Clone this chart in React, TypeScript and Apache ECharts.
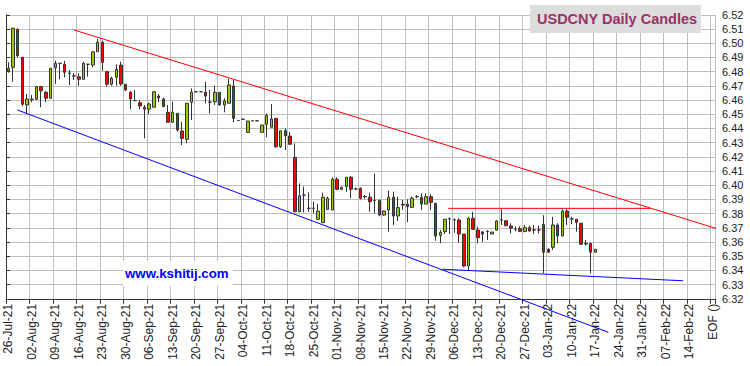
import React, { useEffect, useRef } from "react";
import * as echarts from "echarts";

const MONTHS = ["Jan", "Feb", "Mar", "Apr", "May", "Jun", "Jul", "Aug", "Sep", "Oct", "Nov", "Dec"];

// trading days (weekdays) from 26-Jul-21, 30 weeks, then the EOF slot
function buildCategories(): string[] {
  const out: string[] = [];
  let t = Date.UTC(2021, 6, 26);
  while (out.length < 150) {
    const d = new Date(t);
    const wd = d.getUTCDay();
    if (wd !== 0 && wd !== 6) {
      const dd = String(d.getUTCDate()).padStart(2, "0");
      const yy = String(d.getUTCFullYear() % 100).padStart(2, "0");
      out.push(`${dd}-${MONTHS[d.getUTCMonth()]}-${yy}`);
    }
    t += 86400000;
  }
  out.push("EOF ()");
  return out;
}
const categories = buildCategories();

const openV = [
  6.4806, 6.4830, 6.5098, 6.4901, 6.4565, 6.4603, 6.4605, 6.4694, 6.4654, 6.4612,
  6.4827, 6.4858, 6.4851, 6.4790, 6.4770, 6.4764, 6.4746, 6.4852, 6.4846, 6.4940,
  6.5006, 6.4799, 6.4711, 6.4760, 6.4846, 6.4711, 6.4654, 6.4596, 6.4581, 6.4549,
  6.4535, 6.4549, 6.4628, 6.4607, 6.4513, 6.4443, 6.4506, 6.4382, 6.4323, 6.4584,
  6.4658, 6.4658, 6.4654, 6.4585, 6.4588, 6.4654, 6.4565, 6.4577, 6.4699, 6.4456,
  6.4465, 6.4372, 6.4454, 6.4454, 6.4372, 6.4429, 6.4408, 6.4471, 6.4271, 6.4384,
  6.4346, 6.4196, 6.3813, 6.3931, 6.3838, 6.3838, 6.3760, 6.3736, 6.3830, 6.3825,
  6.4042, 6.3971, 6.3990, 6.4056, 6.3974, 6.3978, 6.3920, 6.3915, 6.3892, 6.3892,
  6.3790, 6.3825, 6.3915, 6.3783, 6.3866, 6.3866, 6.3844, 6.3920, 6.3915, 6.3867,
  6.3919, 6.3873, 6.3647, 6.3673, 6.3763, 6.3756, 6.3755, 6.3656, 6.3431, 6.3767,
  6.3684, 6.3670, 6.3674, 6.3656, 6.3684, 6.3756, 6.3750, 6.3713, 6.3690, 6.3694,
  6.3673, 6.3701, 6.3685, 6.3685, 6.3724, 6.3549, 6.3563, 6.3720, 6.3642, 6.3818,
  6.3763, 6.3760, 6.3732, 6.3590, 6.3591, 6.3528,
];
const closeV = [
  6.4823, 6.5105, 6.4912, 6.4570, 6.4607, 6.4606, 6.4694, 6.4665, 6.4612, 6.4823,
  6.4858, 6.4858, 6.4795, 6.4788, 6.4769, 6.4746, 6.4858, 6.4851, 6.4940, 6.5006,
  6.4865, 6.4711, 6.4753, 6.4816, 6.4713, 6.4670, 6.4607, 6.4595, 6.4558, 6.4535,
  6.4572, 6.4658, 6.4614, 6.4554, 6.4443, 6.4513, 6.4389, 6.4330, 6.4577, 6.4654,
  6.4658, 6.4658, 6.4628, 6.4584, 6.4654, 6.4565, 6.4593, 6.4706, 6.4471, 6.4455,
  6.4464, 6.4452, 6.4453, 6.4453, 6.4424, 6.4491, 6.4466, 6.4271, 6.4384, 6.4349,
  6.4288, 6.3813, 6.3926, 6.3930, 6.3837, 6.3837, 6.3818, 6.3915, 6.3908, 6.4042,
  6.3971, 6.3985, 6.4056, 6.3971, 6.3973, 6.3908, 6.3919, 6.3884, 6.3891, 6.3790,
  6.3818, 6.3915, 6.3783, 6.3842, 6.3860, 6.3850, 6.3908, 6.3919, 6.3867, 6.3919,
  6.3880, 6.3642, 6.3668, 6.3760, 6.3762, 6.3755, 6.3656, 6.3431, 6.3767, 6.3689,
  6.3630, 6.3656, 6.3673, 6.3670, 6.3748, 6.3755, 6.3715, 6.3697, 6.3689, 6.3675,
  6.3701, 6.3677, 6.3684, 6.3684, 6.3528, 6.3528, 6.3720, 6.3642, 6.3818, 6.3774,
  6.3762, 6.3739, 6.3584, 6.3586, 6.3528, 6.3549,
];
const lowV = [
  6.4792, 6.4729, 6.4900, 6.4555, 6.4501, 6.4585, 6.4600, 6.4549, 6.4584, 6.4610,
  6.4713, 6.4746, 6.4760, 6.4706, 6.4741, 6.4701, 6.4745, 6.4764, 6.4830, 6.4940,
  6.4806, 6.4694, 6.4701, 6.4700, 6.4700, 6.4665, 6.4535, 6.4595, 6.4535, 6.4330,
  6.4501, 6.4549, 6.4584, 6.4549, 6.4443, 6.4443, 6.4377, 6.4283, 6.4295, 6.4459,
  6.4655, 6.4655, 6.4577, 6.4506, 6.4565, 6.4560, 6.4513, 6.4577, 6.4442, 6.4452,
  6.4460, 6.4370, 6.4451, 6.4451, 6.4370, 6.4337, 6.4408, 6.4262, 6.4262, 6.4248,
  6.4288, 6.3810, 6.3810, 6.3808, 6.3813, 6.3802, 6.3760, 6.3736, 6.3830, 6.3825,
  6.3965, 6.3965, 6.3954, 6.3907, 6.3965, 6.3900, 6.3905, 6.3813, 6.3802, 6.3781,
  6.3785, 6.3673, 6.3720, 6.3748, 6.3825, 6.3739, 6.3844, 6.3908, 6.3825, 6.3867,
  6.3825, 6.3609, 6.3591, 6.3656, 6.3656, 6.3665, 6.3595, 6.3422, 6.3403, 6.3684,
  6.3591, 6.3602, 6.3614, 6.3656, 6.3680, 6.3720, 6.3710, 6.3661, 6.3675, 6.3670,
  6.3673, 6.3673, 6.3656, 6.3661, 6.3379, 6.3522, 6.3544, 6.3591, 6.3642, 6.3720,
  6.3725, 6.3673, 6.3579, 6.3575, 6.3379, 6.3528,
];
const highV = [
  6.4866, 6.5110, 6.5105, 6.4901, 6.4642, 6.4635, 6.4700, 6.4700, 6.4663, 6.4825,
  6.4877, 6.4860, 6.4875, 6.4811, 6.4788, 6.4788, 6.4870, 6.4852, 6.4940, 6.5030,
  6.5018, 6.4806, 6.4764, 6.4851, 6.4870, 6.4711, 6.4663, 6.4670, 6.4600, 6.4565,
  6.4581, 6.4663, 6.4642, 6.4617, 6.4565, 6.4588, 6.4506, 6.4447, 6.4577, 6.4682,
  6.4660, 6.4660, 6.4729, 6.4670, 6.4701, 6.4654, 6.4612, 6.4748, 6.4741, 6.4458,
  6.4467, 6.4452, 6.4456, 6.4456, 6.4424, 6.4506, 6.4572, 6.4471, 6.4384, 6.4400,
  6.4375, 6.4295, 6.4013, 6.3990, 6.3950, 6.3884, 6.3870, 6.3947, 6.3918, 6.4056,
  6.4056, 6.3990, 6.4056, 6.4065, 6.3985, 6.3985, 6.3930, 6.3947, 6.4083, 6.3900,
  6.3822, 6.3961, 6.3954, 6.3919, 6.3896, 6.3901, 6.3920, 6.3930, 6.3943, 6.3943,
  6.3936, 6.3873, 6.3684, 6.3760, 6.3774, 6.3767, 6.3767, 6.3656, 6.3778, 6.3813,
  6.3708, 6.3677, 6.3684, 6.3670, 6.3755, 6.3832, 6.3750, 6.3732, 6.3710, 6.3710,
  6.3720, 6.3715, 6.3720, 6.3715, 6.3789, 6.3556, 6.3778, 6.3732, 6.3830, 6.3830,
  6.3778, 6.3760, 6.3732, 6.3614, 6.3591, 6.3549,
];

// trend lines: [slot position, price] end points
const upperTrend = [[14.48, 6.5093], [151.5, 6.3693]];
const lowerTrend = [[2.41, 6.453], [128.28, 6.2964]];
const resistance = [[94.2, 6.3837], [137.2, 6.3837]];
const support = [[93.0, 6.3408], [144.2, 6.3327]];

const yTicks = { min: 6.32, max: 6.52, step: 0.01 };

export default function App() {
  const ref = useRef<HTMLDivElement>(null);
  useEffect(() => {
    if (!ref.current) return;
    const chart = echarts.init(ref.current, null, { renderer: "svg" });
    const candleData = openV.map((o, i) => [o, closeV[i], lowV[i], highV[i]]);
    const weekly = (i: number) => i % 5 === 0;
    const grid = "#bdbdbd";
    const lineSeries = (data: number[][], color: string) => ({
      type: "line",
      xAxisIndex: 1,
      yAxisIndex: 0,
      data,
      symbol: "none",
      clip: false,
      silent: true,
      z: 4,
      lineStyle: { color, width: 1 },
    });
    chart.setOption({
      animation: false,
      backgroundColor: "#ffffff",
      textStyle: { fontFamily: "Arial, 'Liberation Sans', sans-serif" },
      grid: { left: 6, right: 35, top: 14.8, bottom: 67.2, containLabel: false },
      xAxis: [
        {
          type: "category",
          data: categories,
          boundaryGap: true,
          axisLine: { show: true, lineStyle: { color: "#333", width: 1 } },
          axisTick: { show: true, interval: weekly, length: 5, lineStyle: { color: "#333" } },
          axisLabel: {
            interval: weekly,
            rotate: 90,
            fontSize: 12,
            color: "#222",
            margin: 5,
          },
          splitLine: { show: true, interval: weekly, lineStyle: { color: grid, width: 1 } },
        },
        { type: "value", min: 0, max: 151, show: false },
      ],
      yAxis: {
        type: "value",
        position: "right",
        min: yTicks.min,
        max: yTicks.max,
        interval: yTicks.step,
        axisLine: { show: true, lineStyle: { color: "#333" } },
        axisTick: { show: true, length: 4, lineStyle: { color: "#333" } },
        axisLabel: {
          formatter: (v: number) => v.toFixed(2),
          fontSize: 11,
          color: "#222",
          margin: 7,
        },
        splitLine: { show: true, lineStyle: { color: grid, width: 1 } },
      },
      series: [
        {
          type: "candlestick",
          xAxisIndex: 0,
          data: candleData,
          barWidth: 3,
          itemStyle: {
            color: "#99cc00",
            color0: "#ff0000",
            borderColor: "#333333",
            borderColor0: "#333333",
            borderWidth: 1,
          },
          z: 3,
        },
        lineSeries(upperTrend, "#ff0000"),
        lineSeries(lowerTrend, "#0000ff"),
        lineSeries(resistance, "#ff0000"),
        lineSeries(support, "#0000ff"),
      ],
      graphic: [
        {
          type: "rect",
          shape: { x: 530, y: 5, width: 171, height: 28 },
          style: { fill: "#dddddd" },
          z: 10,
        },
        {
          type: "text",
          x: 537,
          y: 18.5,
          style: {
            text: "USDCNY Daily Candles",
            fill: "#993366",
            font: "bold 14.5px Arial, 'Liberation Sans', sans-serif",
            textAlign: "left",
            textVerticalAlign: "middle",
          },
          z: 11,
        },
        {
          type: "rect",
          shape: { x: 123, y: 261, width: 110, height: 25 },
          style: { fill: "#ffffff" },
          z: 10,
        },
        {
          type: "text",
          x: 125,
          y: 273,
          style: {
            text: "www.kshitij.com",
            fill: "#0000ff",
            font: "bold 13.3px Arial, 'Liberation Sans', sans-serif",
            textAlign: "left",
            textVerticalAlign: "middle",
          },
          z: 11,
        },
      ],
    });
    return () => chart.dispose();
  }, []);
  return (
    <div
      ref={ref}
      style={{ position: "fixed", left: 0, top: 0, width: 750, height: 366, background: "#fff" }}
    />
  );
}
